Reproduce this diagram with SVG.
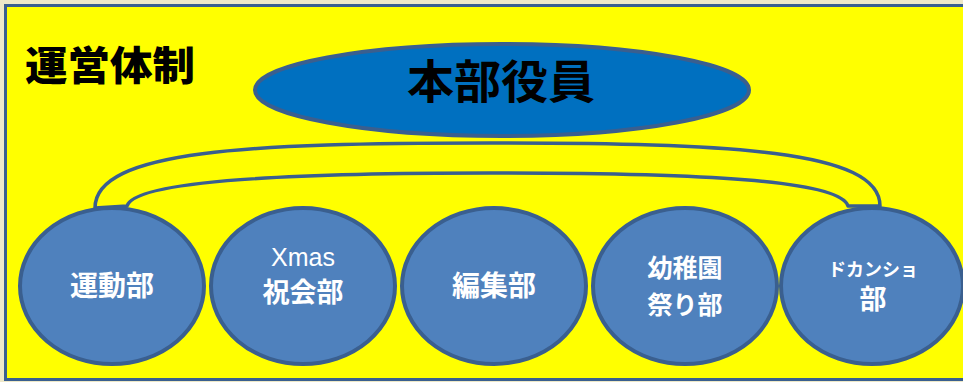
<svg xmlns="http://www.w3.org/2000/svg" width="963" height="382" viewBox="0 0 963 382">
<style>
.frame{fill:#FFFF00;stroke:#3A5F8F;stroke-width:3}
.node{fill:#4F81BD;stroke:#3A5F8F;stroke-width:4}
.top{fill:#0070C0;stroke:#3A5F8F;stroke-width:4}
.band{fill:#FFFF00;stroke:#3A5F8F;stroke-width:3.5;stroke-linejoin:round}
.lbl{font-family:"Noto Sans CJK JP","Liberation Sans",sans-serif;font-weight:700;fill:#FFFFFF;text-anchor:middle}
.lat{font-family:"Liberation Sans","Noto Sans CJK JP",sans-serif;font-weight:400;fill:#FFFFFF;text-anchor:middle}
</style>
<rect x="0" y="0" width="963" height="382" fill="#EEE8C8"/>
<rect class="frame" x="5.5" y="5.5" width="975" height="374"/>
<text x="25" y="80" font-family="'Noto Sans CJK JP',sans-serif" font-weight="900" font-size="40" fill="#000" textLength="170" lengthAdjust="spacingAndGlyphs">運営体制</text>
<g id="connectors">
<path class="band" d="M95,208 C95,150 250,143 490,143 C730,143 880,150 880,206 L848,206 C840,180 700,173 490,173 C300,173 135,180 127,206 Z"/>
</g>
<g id="honbu">
<ellipse class="top" cx="502" cy="90" rx="247" ry="46"/>
<text x="501" y="98" font-family="'Noto Sans CJK JP',sans-serif" font-weight="700" font-size="46" fill="#000" text-anchor="middle" textLength="188" lengthAdjust="spacingAndGlyphs">本部役員</text>
</g>
<g id="undo">
<ellipse class="node" cx="112" cy="286" rx="92" ry="78"/>
<text class="lbl" x="112" y="296" font-size="28">運動部</text>
</g>
<g id="xmas">
<ellipse class="node" cx="303" cy="286" rx="92" ry="78"/>
<text class="lat" x="303" y="266" font-size="25">Xmas</text>
<text class="lbl" x="303" y="302" font-size="27">祝会部</text>
</g>
<g id="henshu">
<ellipse class="node" cx="494" cy="286" rx="92" ry="78"/>
<text class="lbl" x="494" y="296" font-size="28">編集部</text>
</g>
<g id="yochien">
<ellipse class="node" cx="685" cy="286" rx="92" ry="78"/>
<text class="lbl" x="685" y="277" font-size="25">幼稚園</text>
<text class="lbl" x="685" y="314" font-size="25">祭り部</text>
</g>
<g id="dokansho">
<ellipse class="node" cx="872" cy="286" rx="91" ry="78"/>
<text class="lbl" x="873" y="276" font-size="18">ドカンショ</text>
<text class="lbl" x="873" y="309" font-size="27">部</text>
</g>
</svg>
